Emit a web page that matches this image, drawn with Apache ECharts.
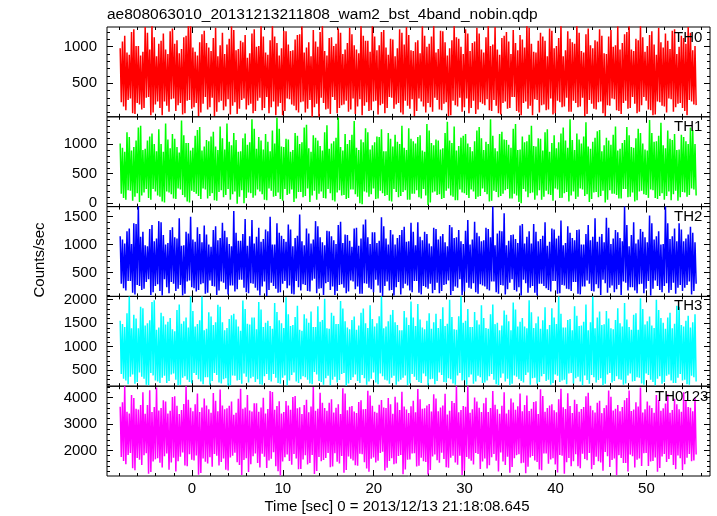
<!DOCTYPE html>
<html><head><meta charset="utf-8">
<script src="https://cdn.jsdelivr.net/npm/echarts@6/dist/echarts.min.js"></script>
<style>html,body{margin:0;padding:0;background:#fff}#c{width:717px;height:516px}</style>
</head><body><div id="c"></div>
<script>
// ---- texts ----
const chartTitle = "ae808063010_20131213211808_wam2_bst_4band_nobin.qdp";
const xTitle = "Time [sec] 0 = 2013/12/13 21:18:08.645";
const yTitle = "Counts/sec";
const panelNames = ["TH0", "TH1", "TH2", "TH3", "TH0123"];

// ---- x axis ----
const xMin = -9.35, xMax = 57;
const xMajorTicks = [0, 10, 20, 30, 40, 50];
const tStart = -7.9, tStep = 0.5;   // per step: hiA, loA, hiB, loB samples (0.125 s apart)

// ---- y axes ----
const yMin = [40, -58, 74, 160, 1030];
const yMax = [1270, 1463, 1680, 2070, 4430];
const yMajorTicks = [[500, 1000], [0, 500, 1000], [500, 1000, 1500], [500, 1000, 1500, 2000], [2000, 3000, 4000]];
const yMinorStep = [100, 100, 100, 100, 200];

// ---- series values ----
const th0HiA = [980,1150,890,1240,1010,930,1190,1300,870,1080, 960,1210,1040,910,1130,1290,990,880,1170,1050,
 940,1260,1020,900,1110,1230,970,1060,850,1180, 1000,1300,920,1090,1140,880,1220,1030,950,1160,
 1280,990,870,1070,1200,940,1120,1010,1250,900, 1050,1170,960,1300,1080,930,1140,1020,1230,890,
 1100,980,1190,1270,950,1060,910,1150,1040,1300, 970,1210,880,1090,1130,1000,1240,940,1070,1180,
 920,1290,1030,960,1120,1200,900,1050,1160,990, 1260,930,1080,1140,870,1220,1010,1300,950,1110,
 1040,1190,920,1250,980,1070,1150,900,1230,1020, 960,1170,1280,940,1090,1130,1010,1210,890,1060,
 1180,970,1240,1000,1120,1270,950];
const th0LoA = [240,130,290,80,210,160,310,100,250,60, 190,280,120,230,90,270,170,50,220,140,
 300,110,260,180,70,240,150,290,200,90, 260,130,310,170,60,230,120,280,190,100,
 250,150,40,220,300,140,80,270,160,210, 110,290,180,60,240,130,260,200,90,310,
 150,230,70,190,280,120,250,100,170,300, 140,220,50,260,180,110,290,160,80,240,
 200,130,270,90,230,150,310,120,60,250, 190,280,100,210,140,70,260,170,300,110,
 230,180,50,270,150,240,90,200,290,130, 80,260,160,220,110,310,140,60,250,190,
 100,280,170,230,120,270,210];
const th0HiB = [1070,920,1200,1010,880,1270,960,1130,1040,1180, 900,1250,1090,970,1150,1300,930,1060,1220,990,
 1120,870,1190,1030,1280,950,1080,1160,910,1240, 1010,1140,890,1300,1050,980,1210,940,1100,1170,
 920,1060,1230,1000,1290,880,1130,1040,1190,960, 1260,1020,910,1150,1080,1300,950,1200,990,1110,
 870,1240,1030,1160,940,1090,1280,1000,1140,920, 1220,1060,980,1300,1110,900,1180,1050,1260,960,
 1130,1010,1270,890,1150,1070,1230,950,1100,1300, 1040,920,1190,1080,1250,980,1120,870,1210,1060,
 1300,940,1170,1020,1090,1240,910,1140,1000,1280, 1050,1200,960,1110,1300,930,1160,1030,1260,990,
 1080,1220,900,1150,1040,1190,1010];
const th0LoB = [180,270,90,230,140,300,60,210,160,250, 110,290,200,70,260,150,230,100,310,170,
 50,240,130,280,190,80,270,140,220,120, 300,160,90,250,180,60,290,210,130,240,
 100,270,170,40,230,150,310,90,200,260, 140,80,280,190,120,250,70,220,160,300,
 210,100,260,150,50,290,180,230,110,270, 130,240,60,200,300,170,90,260,140,220,
 280,120,190,70,250,160,310,100,230,150, 60,270,200,130,290,90,240,180,110,260,
 170,300,80,220,140,250,50,190,280,120, 230,150,310,90,200,260,130,70,240,180,
 290,110,220,160,60,250,200];

const th1HiA = [1010,870,1120,950,1280,900,1060,1180,880,1000, 1350,930,1090,860,1150,1020,940,1240,890,1070,
 1130,960,1300,910,1040,1190,870,1100,990,1420, 920,1060,1170,880,1010,1260,950,1080,900,1140,
 1030,1330,870,1110,970,1200,920,1050,1450,890, 1000,1160,940,1080,1270,910,1030,1120,880,1190,
 960,1040,1310,900,1090,1010,1150,870,1230,980, 1060,930,1380,1020,890,1110,1170,950,1050,1290,
 900,1000,1140,880,1210,1070,940,1340,910,1030, 1160,970,1100,890,1250,1020,930,1180,1060,1420,
 900,1080,1130,960,1040,1220,880,1110,990,1300, 920,1070,1150,940,1260,1010,890,1190,1050,1360,
 930,1090,1170,910,1120,1000,1240];
const th1LoA = [160,60,210,110,20,180,90,240,130,30, 200,150,70,230,100,10,190,120,250,80,
 170,40,220,140,60,200,110,0,180,90, 230,150,50,210,120,70,240,160,20,190,
 100,250,130,60,200,80,170,30,220,140, 90,230,110,-20,180,150,70,210,120,40,
 240,100,190,60,160,220,80,130,10,200, 150,90,250,110,50,180,140,230,70,120,
 190,30,210,100,160,240,80,130,0,200, 170,60,220,110,150,40,230,90,190,130,
 70,250,120,20,180,100,210,60,160,140, 80,240,110,30,200,150,90,220,70,170,
 120,50,210,100,180,140,230];
const th1HiB = [940,1200,890,1060,1310,920,1130,1000,1250,870, 1080,1170,950,1400,1020,890,1140,1290,960,1050,
 1210,900,1100,1350,980,1070,880,1180,1030,1260, 1120,910,1040,1230,1450,960,1090,870,1190,1000,
 1280,930,1150,1060,890,1320,1010,1110,950,1170, 1070,1390,900,1030,1200,980,1130,1250,880,1090,
 1160,1000,940,1270,1050,1120,890,1340,1020,1080, 910,1190,1060,1300,970,1140,1010,880,1230,1100,
 1040,1420,930,1170,1080,990,1260,900,1130,1050, 1310,960,1090,1200,870,1150,1030,1280,940,1070,
 1180,1010,1370,920,1110,1240,980,1060,1160,890, 1020,1290,950,1100,1190,910,1410,1040,1140,980,
 1230,1070,900,1160,1050,1280,1000];
const th1LoB = [90,220,40,170,130,240,60,200,110,10, 180,80,250,140,30,210,160,70,230,120,
 50,190,100,240,150,-10,220,90,170,130, 200,60,250,110,180,40,140,230,80,190,
 120,20,210,160,90,240,50,180,130,70, 230,150,0,200,110,250,80,170,140,30,
 190,120,220,60,160,100,240,-30,180,140, 70,210,130,50,230,170,90,200,110,250,
 150,40,190,120,220,80,160,20,240,100, 180,130,60,210,140,250,90,170,30,200,
 110,230,150,70,190,120,10,220,160,80, 240,100,180,50,210,140,230,90,120,60,
 200,150,40,190,110,250,130];

const th2HiA = [1150,1020,1290,1380,1680,1230,970,1350,1110,1400, 1000,1260,1130,1470,990,1200,1090,1310,1040,1180,
 960,1330,1120,1250,1010,1600,1070,1190,980,1440, 1140,1050,1270,1500,1000,1210,1100,1360,970,1160,
 1060,1290,1020,1420,1130,990,1240,1080,1350,1030, 1170,960,1300,1110,1450,1010,1220,1070,1330,1000,
 1180,1120,1260,1050,1390,990,1140,1230,1020,1300, 1090,1190,970,1310,1130,1060,1250,1000,1410,1150,
 1080,1280,1680,1200,1240,990,1170,1100,1340,1020, 1240,1370,1060,1160,980,1290,1110,1430,1030,1210,
 1080,1270,1000,1350,1140,1050,1190,1480,1010,1260, 1120,1680,970,1400,1090,1230,1040,1380,1150,1000,
 1680,1100,1290,1380,1060,1180,1210];
const th2LoA = [300,180,350,110,260,210,380,150,290,90, 240,330,170,280,120,360,220,190,310,140,
 260,100,340,200,270,160,370,230,130,300, 180,250,80,320,210,150,350,270,110,240,
 290,170,360,130,220,310,190,100,280,230, 160,340,250,120,300,200,370,140,260,180,
 90,330,220,270,150,350,110,240,300,190, 130,280,360,170,230,100,320,210,150,290,
 250,180,340,120,270,200,380,160,90,310, 230,140,300,260,190,350,120,280,210,170,
 330,110,250,300,160,220,370,140,270,200, 100,320,240,180,290,130,350,210,260,150,
 310,190,120,280,230,340,170];
const th2HiB = [1090,1240,1010,1370,1140,990,1280,1060,1420,1170, 1030,1310,1110,980,1230,1500,1050,1190,1340,1000,
 1260,1080,1390,1130,970,1210,1070,1460,1150,1020, 1300,1100,1240,1000,1380,1160,1050,1270,1120,1540,
 990,1200,1090,1330,1040,1250,1150,1010,1410,1180, 1070,1290,980,1360,1130,1220,1030,1490,1110,1260,
 1000,1170,1320,1060,1230,1400,1080,1190,970,1280, 1150,1040,1350,1120,1260,1010,1440,1090,1210,1060,
 1300,1130,990,1250,1560,1070,1180,1030,1370,1140, 1020,1230,1100,1400,1050,1270,1160,990,1330,1120,
 1260,1000,1190,1080,1470,1140,1040,1300,1110,1220, 1060,1350,1170,1020,1280,1130,1520,1090,1240,1010,
 1380,1150,1060,1270,1110,1320,1040];
const th2LoB = [220,350,140,280,190,330,100,260,170,380, 130,300,210,90,340,240,160,290,120,360,
 250,180,320,110,270,200,370,150,310,230, 90,340,190,260,140,300,220,120,350,180,
 280,160,390,210,100,330,250,170,290,130, 360,200,120,310,230,150,270,80,340,190,
 240,110,300,180,350,140,260,210,130,320, 170,290,100,250,380,160,230,310,120,270,
 200,340,150,280,110,320,190,240,370,140, 260,90,300,220,160,350,130,270,200,330,
 120,250,360,170,290,100,310,230,150,280, 340,180,240,130,300,210,90,360,190,260,
 140,320,230,170,280,110,300];

const th3HiA = [1550,1420,2070,1680,1390,1820,1500,1950,1360,1720, 1470,1610,1330,1900,1540,1410,1760,1480,2070,1380,
 1640,1520,1850,1350,1590,1700,1430,1980,1490,1620, 1370,1790,1510,1440,1930,1560,1400,1690,1460,1870,
 1340,1600,1750,1420,1530,2020,1380,1660,1480,1810, 1410,1570,1360,1720,1500,1880,1430,1650,1390,1540,
 1780,1460,1350,1620,1960,1440,1580,1370,1710,1520, 1400,1840,1490,1630,1360,2070,1550,1420,1740,1470,
 1610,1380,1900,1510,1450,1680,1350,1790,1530,1430, 1990,1400,1640,1560,1370,1820,1480,1700,1410,1590,
 1860,1440,1530,1350,2070,1620,1460,1760,1390,1570, 1500,1930,1420,1680,1360,1800,1540,1450,2000,1610,
 1380,1720,1490,1850,1430,1660,1520];
const th3LoA = [420,280,360,210,450,320,180,390,260,340, 230,410,300,190,370,250,440,310,200,350,
 270,400,220,330,180,380,290,430,240,360, 310,190,420,260,340,210,390,280,450,230,
 370,300,200,410,250,330,180,360,290,440, 220,350,270,400,190,320,240,430,300,210,
 380,260,340,180,420,290,230,370,310,200, 450,250,330,220,390,280,190,410,260,350,
 240,370,300,180,430,320,210,360,270,400, 190,340,250,420,300,230,380,280,200,440,
 330,260,390,210,350,290,180,410,240,370, 300,220,430,270,340,190,400,250,320,210,
 380,280,230,420,300,190,350];
const th3HiB = [1480,1710,1390,1600,1850,1450,1560,1990,1410,1650, 1530,1370,1780,1490,1620,2070,1430,1560,1350,1730,
 1460,1890,1520,1400,1670,1580,1340,1800,1470,1620, 1950,1420,1550,1380,1740,1500,2050,1440,1630,1360,
 1690,1510,1420,1860,1570,1390,1720,1480,1970,1540, 1370,1640,1450,1810,1400,1590,1500,2070,1430,1680,
 1520,1350,1760,1460,1620,1910,1410,1550,1380,1700, 1590,1440,2000,1370,1650,1510,1800,1420,1560,1880,
 1400,1690,1480,1350,1770,1540,1940,1430,1610,1390, 1730,1500,1380,1840,1460,1620,2070,1410,1570,1350,
 1660,1450,1900,1520,1390,1750,1480,1600,1370,1820, 1430,1580,1360,1710,2030,1470,1640,1400,1780,1510,
 1620,1390,1870,1460,1550,1410,1690];
const th3LoB = [320,200,410,250,360,190,440,280,230,380, 270,430,180,340,300,220,400,260,350,190,
 440,240,310,170,390,280,210,360,330,250, 200,370,290,420,230,340,180,400,260,310,
 350,220,460,270,190,380,300,240,420,170, 290,410,230,330,260,450,200,370,280,340,
 190,300,390,220,360,250,430,180,320,270, 400,240,310,190,440,290,350,210,380,230,
 280,420,200,340,260,180,390,310,240,450, 330,210,370,270,190,410,250,300,430,220,
 360,180,290,400,240,330,210,440,270,310, 190,390,260,350,220,430,300,180,370,250,
 410,230,340,280,200,380,260];

const th0123HiA = [3650,4430,3400,3980,3550,4200,3720,3450,4380,3600, 3850,3500,4050,3380,3760,3920,3480,4150,3620,3700,
 3420,3880,4300,3560,3690,3350,3950,3580,4100,3470, 3780,3620,3400,4250,3540,3860,3450,3700,4020,3590,
 3380,3920,3660,3500,4180,3600,3800,3430,3750,4350, 3520,3680,3410,3900,3570,4080,3460,3730,3620,3980,
 3390,3810,4220,3550,3670,3440,3940,3590,3760,4120, 3480,3700,3360,3870,4430,3530,3650,3420,4000,3610,
 3780,3450,4250,3560,3690,3400,3960,3540,4150,3720, 3490,3830,3380,4060,3600,3750,3440,4330,3570,3680,
 3920,3460,3640,4180,3520,3800,3410,3710,4030,3580, 3480,3900,4270,3550,3660,3430,3850,3600,4100,3500,
 3770,3420,3950,3560,4200,3640,3480];
const th0123LoA = [1750,1480,1900,1250,1650,1820,1120,1580,1700,1350, 1880,1540,1200,1760,1430,1850,1620,1080,1690,1500,
 1380,1800,1560,1270,1730,1910,1450,1640,1180,1780, 1520,1870,1330,1680,1400,1050,1740,1600,1860,1290,
 1660,1470,1830,1220,1590,1710,1360,1890,1500,1150, 1770,1620,1420,1850,1310,1680,1540,1900,1240,1600,
 1480,1790,1100,1650,1880,1390,1720,1560,1260,1840, 1530,1670,1340,1800,1460,1070,1750,1610,1900,1300,
 1690,1440,1860,1200,1580,1760,1370,1820,1510,1130, 1730,1620,1280,1880,1490,1700,1160,1800,1550,1400,
 1850,1320,1670,1900,1450,1590,1230,1780,1640,1060, 1710,1520,1840,1350,1690,1890,1410,1600,1190,1770,
 1560,1830,1290,1700,1480,1860,1620];
const th0123HiB = [3820,3460,4100,3580,3720,3390,4280,3640,3510,3900, 3400,4020,3690,3530,4430,3610,3750,3450,3960,3560,
 4170,3480,3700,3590,3850,3420,4330,3620,3510,3780, 3460,3990,3570,4210,3680,3400,3870,3540,4060,3630,
 3720,3440,4400,3580,3800,3500,3940,3610,3380,4150, 3650,3470,3830,3560,4260,3690,3420,3910,3600,3750,
 4030,3530,3660,3410,3880,4320,3580,3700,3470,3960, 3620,4140,3500,3790,3440,3680,4430,3560,3850,3450,
 3990,3600,3730,3390,4200,3540,3810,3670,3480,4080, 3580,3860,4310,3460,3700,3520,3940,3630,4160,3410,
 3760,3570,4050,3690,3430,3880,3600,4270,3510,3720, 3640,3980,3490,3820,4380,3560,3700,3420,3910,3590,
 4120,3530,3750,3460,3870,3610,3990];
const th0123LoB = [1600,1830,1320,1710,1450,1890,1180,1660,1530,1780, 1270,1720,1590,1920,1400,1650,1810,1140,1570,1740,
 1860,1430,1690,1240,1800,1550,1070,1700,1480,1880, 1350,1760,1620,1930,1210,1580,1840,1460,1690,1300,
 1820,1520,1110,1750,1640,1900,1390,1570,1790,1260, 1680,1440,1870,1550,1190,1730,1610,1950,1340,1700,
 1500,1830,1280,1660,1890,1420,1590,1090,1770,1630, 1910,1360,1720,1540,1800,1230,1680,1470,1860,1580,
 1310,1740,1610,1920,1450,1150,1700,1850,1530,1380, 1790,1560,1250,1880,1660,1470,1830,1120,1710,1590,
 1400,1870,1630,1290,1760,1540,1940,1370,1690,1820, 1520,1200,1780,1650,1410,1900,1580,1730,1330,1860,
 1670,1450,1810,1260,1720,1590,1840];

const seriesSamples = [
  [th0HiA, th0LoA, th0HiB, th0LoB],
  [th1HiA, th1LoA, th1HiB, th1LoB],
  [th2HiA, th2LoA, th2HiB, th2LoB],
  [th3HiA, th3LoA, th3HiB, th3LoB],
  [th0123HiA, th0123LoA, th0123HiB, th0123LoB]
];

// ---- styling / layout ----
const colors = ["#ff0000", "#00ff00", "#0000ff", "#00ffff", "#ff00ff"];
const FONT = '"Liberation Sans", Arial, Helvetica, sans-serif';
const gridLeft = 107, gridRight = 7, gridTop0 = 27, panelH = 89.8;

function multiplesIn(step, lo, hi) {
  const out = [];
  for (let v = Math.ceil(lo / step) * step; v <= hi + 1e-9; v += step) out.push(+v.toFixed(6));
  return out;
}
const xMinorTicks = multiplesIn(2, xMin, xMax);
const plainFmt = function (v) { return String(v); };

const grids = [], xAxes = [], yAxes = [], series = [], graphics = [];
for (let i = 0; i < 5; i++) {
  grids.push({ left: gridLeft, right: gridRight, top: gridTop0 + i * panelH, height: panelH,
    show: true, borderColor: '#000', borderWidth: 1, backgroundColor: 'transparent' });
  const xBase = { gridIndex: i, type: 'value', min: xMin, max: xMax,
    axisLine: { show: false, onZero: false }, splitLine: { show: false } };
  xAxes.push(
    Object.assign({}, xBase, { position: 'bottom',
      axisTick: { show: true, inside: true, length: 6, customValues: xMajorTicks, lineStyle: { color: '#000' } },
      axisLabel: { show: i === 4, customValues: xMajorTicks, formatter: plainFmt, margin: 5, fontSize: 15, color: '#000', fontFamily: FONT } }),
    Object.assign({}, xBase, { position: 'bottom',
      axisTick: { show: true, inside: true, length: 3, customValues: xMinorTicks, lineStyle: { color: '#000' } },
      axisLabel: { show: false } }),
    Object.assign({}, xBase, { position: 'top',
      axisTick: { show: true, inside: true, length: 6, customValues: xMajorTicks, lineStyle: { color: '#000' } },
      axisLabel: { show: false } }),
    Object.assign({}, xBase, { position: 'top',
      axisTick: { show: true, inside: true, length: 3, customValues: xMinorTicks, lineStyle: { color: '#000' } },
      axisLabel: { show: false } })
  );

  const yMinor = multiplesIn(yMinorStep[i], yMin[i], yMax[i]);
  const yBase = { gridIndex: i, type: 'value', min: yMin[i], max: yMax[i],
    axisLine: { show: false, onZero: false }, splitLine: { show: false } };
  yAxes.push(
    Object.assign({}, yBase, { position: 'left',
      axisTick: { show: true, inside: true, length: 6, customValues: yMajorTicks[i], lineStyle: { color: '#000' } },
      axisLabel: { show: true, customValues: yMajorTicks[i], formatter: plainFmt, margin: 10, fontSize: 15, color: '#000', fontFamily: FONT } }),
    Object.assign({}, yBase, { position: 'left',
      axisTick: { show: true, inside: true, length: 3, customValues: yMinor, lineStyle: { color: '#000' } },
      axisLabel: { show: false } }),
    Object.assign({}, yBase, { position: 'right',
      axisTick: { show: true, inside: true, length: 6, customValues: yMajorTicks[i], lineStyle: { color: '#000' } },
      axisLabel: { show: false } }),
    Object.assign({}, yBase, { position: 'right',
      axisTick: { show: true, inside: true, length: 3, customValues: yMinor, lineStyle: { color: '#000' } },
      axisLabel: { show: false } })
  );

  const s = seriesSamples[i];
  const n = Math.min(s[0].length, s[1].length, s[2].length, s[3].length);
  const data = [];
  for (let k = 0; k < n; k++) {
    const t = tStart + k * tStep;
    for (let j = 0; j < 4; j++) data.push([+(t + j * tStep / 4).toFixed(4), s[j][k]]);
  }
  series.push({ type: 'line', name: panelNames[i], xAxisIndex: i * 4, yAxisIndex: i * 4, data: data,
    showSymbol: false, symbol: 'none', sampling: null, clip: true, silent: true,
    lineStyle: { color: colors[i], width: 1.5, join: 'miter', miterLimit: 1 }, z: 1 });
}

const labelX = [674, 674, 674, 674, 655];
const labelY = [38, 127, 217, 306, 397];
for (let i = 0; i < 5; i++) {
  graphics.push({ type: 'text', x: labelX[i], y: labelY[i], z: 100,
    style: { text: panelNames[i], font: '15px ' + FONT, fill: '#000', align: 'left', verticalAlign: 'middle' } });
}
graphics.push({ type: 'text', x: 107, y: 15, style: { text: chartTitle, font: '15.5px ' + FONT, fill: '#000', align: 'left', verticalAlign: 'middle' } });
graphics.push({ type: 'text', x: 397, y: 507, style: { text: xTitle, font: '15px ' + FONT, fill: '#000', align: 'center', verticalAlign: 'middle' } });
graphics.push({ type: 'text', x: 40, y: 260, rotation: Math.PI / 2, style: { text: yTitle, font: '15px ' + FONT, fill: '#000', align: 'center', verticalAlign: 'middle' } });

const chart = echarts.init(document.getElementById('c'), null, { renderer: 'canvas' });
chart.setOption({
  animation: false,
  backgroundColor: '#fff',
  grid: grids, xAxis: xAxes, yAxis: yAxes, series: series, graphic: graphics
});
</script></body></html>
